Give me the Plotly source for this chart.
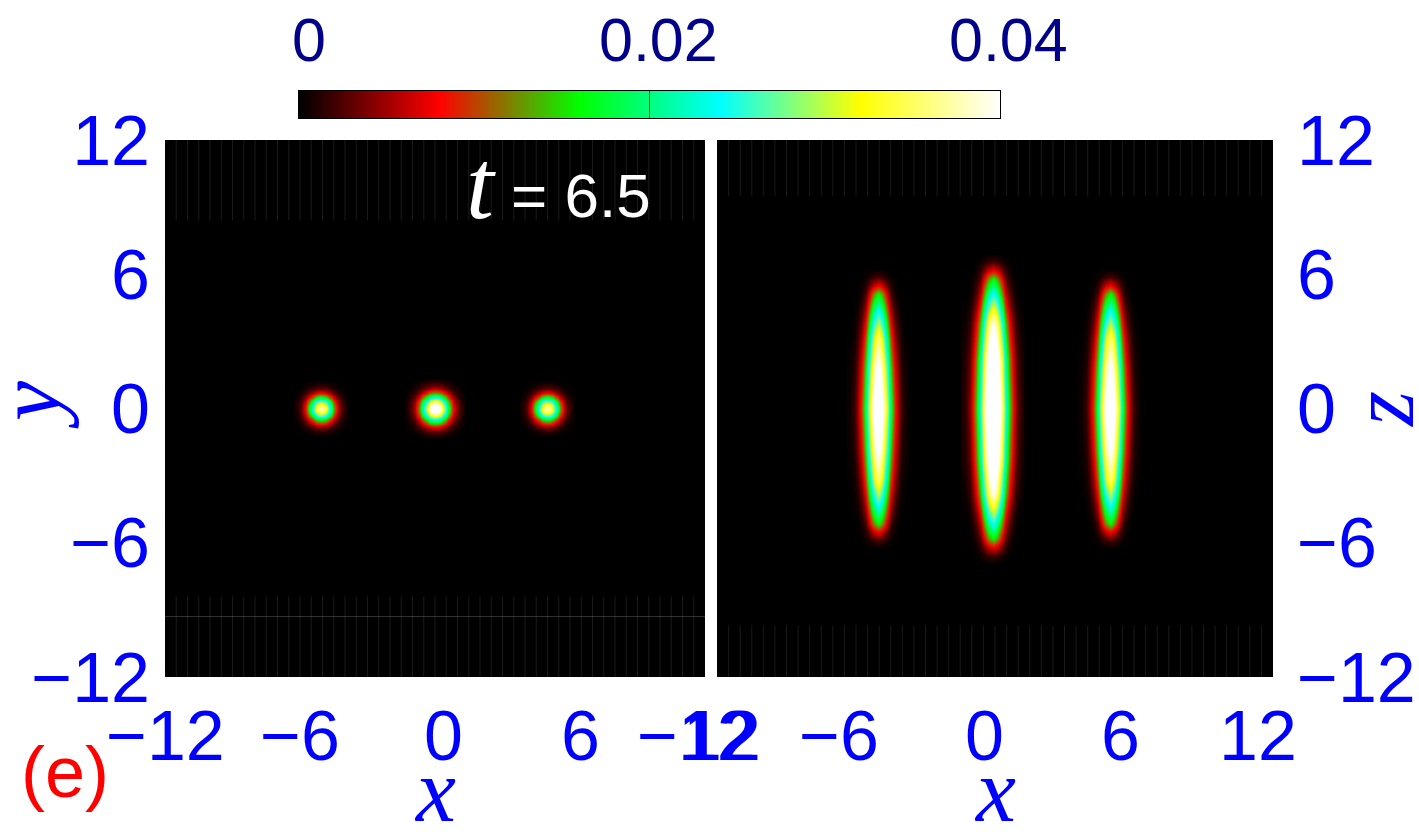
import numpy as np
import plotly.graph_objects as go

W, H = 1419, 839

# colour scale: density at each colour stop of the bar
bar_values = [0, 0.008, 0.016, 0.024, 0.032, 0.04]
bar_colors = ["#000000", "#ff0000", "#00ff00", "#00ffff", "#ffff00", "#ffffff"]
bar_tick_values = [0, 0.02, 0.04]
bar_tick_text = ["0", "0.02", "0.04"]

axis_ticks = [-12, -6, 0, 6, 12]
axis_tick_text = ["\u221212", "\u22126", "0", "6", "12"]

# blob centres on the x axis, and peak density
xy_centres = [-5.07, 0.0, 4.98]
xz_centres = [-5.05, -0.09, 4.96]
xy_peaks = [0.038, 0.044, 0.038]

# x-y panel: cross-section through a blob, distance from its centre -> fraction of its peak
xy_offsets = [0, .115, .23, .345, .46, .575, .69, .805, .92, 1.035, 1.15, 1.265, 1.38]
xy_side_profile = [1, .959, .847, .688, .515, .354, .225, .131, .070, .035, .016, 0, 0]
xy_mid_profile = [1, .968, .877, .744, .591, .44, .306, .2, .122, .07, .037, .019, 0]

# x-z panel: one quadrant of each blob's density, rows going out along z, columns along x
xz_x_nodes = [0, .2, .42, .56, .72, .88, 1.03, 1.25]
xz_side_z_nodes = [0, 1.79, 3.13, 4.02, 4.69, 5.13, 5.49, 5.89, 6.25]
xz_side_density = [
    [.046, .041, .030, .0185, .010, .0047, .0019, .0004],
    [.042, .0365, .0249, .015, .0077, .0034, .0012, .0003],
    [.036, .0306, .0187, .0105, .0049, .0019, .0006, .0001],
    [.028, .0232, .0131, .0067, .0027, .0009, .0003, 0],
    [.021, .0168, .0086, .0039, .0014, .0004, .0001, 0],
    [.016, .0123, .0056, .0022, .0006, .0001, 0, 0],
    [.008, .0061, .0028, .0011, .0003, .0001, 0, 0],
    [.002, .0015, .0007, .0003, .0001, 0, 0, 0],
    [0, 0, 0, 0, 0, 0, 0, 0],
]
xz_mid_z_nodes = [0, 2.23, 3.79, 4.69, 5.27, 5.80, 6.16, 6.56, 6.92]
xz_mid_density = [
    [.052, .0470, .0350, .0247, .0149, .0080, .0038, .0011],
    [.047, .0425, .0310, .0208, .0120, .0061, .0028, .0008],
    [.040, .035, .0233, .0144, .0077, .0035, .0014, .0003],
    [.030, .0255, .0156, .0087, .0041, .0016, .0005, .0001],
    [.023, .019, .0108, .0055, .0023, .0008, .0002, 0],
    [.016, .0128, .0066, .003, .0011, .0003, .0001, 0],
    [.008, .0064, .0033, .0015, .0005, .0001, 0, 0],
    [.002, .0016, .0008, .0004, .0001, 0, 0, 0],
    [0, 0, 0, 0, 0, 0, 0, 0],
]

# faint mesh lines seen in the black bands at the top and bottom of each panel
mesh_x = [-11.5, -11, -10.5, -10, -9.5, -9, -8.5, -8, -7.5, -7, -6.5, -6, -5.5, -5, -4.5, -4, -3.5, -3,
          -2.5, -2, -1.5, -1, -.5, 0, .5, 1, 1.5, 2, 2.5, 3, 3.5, 4, 4.5, 5, 5.5, 6, 6.5, 7, 7.5, 8,
          8.5, 9, 9.5, 10, 10.5, 11, 11.5]
xy_mesh_bands = [(8.4, 12), (-12, -8.4)]
xz_mesh_bands = [(9.5, 12), (-12, -9.7)]
xy_mesh_row = -9.3
MESH = "rgba(255,255,255,0.10)"


def mirror_nodes(o):
    o = np.array(o, float)
    return np.r_[-o[:0:-1], o]


def mirror_profile(p):
    p = np.array(p, float)
    return np.r_[p[:0:-1], p]


def mirror_table(t):
    t = np.array(t, float)
    t = np.hstack([t[:, :0:-1], t])
    return np.vstack([t[:0:-1], t])


def blob(x, y, z, xa, ya):
    return go.Heatmap(x=x, y=y, z=z, coloraxis="coloraxis", zsmooth="best", xaxis=xa, yaxis=ya, hoverinfo="skip")


def mesh(bands, xa, ya):
    xs, ys = [], []
    for lo, hi in bands:
        for v in mesh_x:
            xs += [v, v, None]
            ys += [lo, hi, None]
    return go.Scatter(x=xs, y=ys, mode="lines", line=dict(color=MESH, width=1), xaxis=xa, yaxis=ya,
                      hoverinfo="skip")


fig = go.Figure()
for i, (c, pk) in enumerate(zip(xy_centres, xy_peaks)):
    prof = mirror_profile(xy_mid_profile if i == 1 else xy_side_profile)
    o = mirror_nodes(xy_offsets)
    fig.add_trace(blob(c + o, o, pk * np.outer(prof, prof), "x", "y"))
for i, c in enumerate(xz_centres):
    nodes = xz_mid_z_nodes if i == 1 else xz_side_z_nodes
    table = xz_mid_density if i == 1 else xz_side_density
    fig.add_trace(blob(c + mirror_nodes(xz_x_nodes), mirror_nodes(nodes), mirror_table(table), "x2", "y2"))

fig.add_trace(mesh(xy_mesh_bands, "x", "y"))
fig.add_trace(mesh(xz_mesh_bands, "x2", "y2"))
fig.add_trace(go.Scatter(x=[-12, 12], y=[xy_mesh_row, xy_mesh_row], mode="lines",
                         line=dict(color="rgba(255,255,255,0.2)", width=1), xaxis="x", yaxis="y", hoverinfo="skip"))

# colour bar, as its own small axes so that it cannot push the margins
fig.add_trace(go.Heatmap(x=bar_values, y=[0, 1], z=[bar_values, bar_values], coloraxis="coloraxis",
                         zsmooth="best", xaxis="x3", yaxis="y3", hoverinfo="skip"))

BLUE = "#0000ff"
TICK = dict(family="Liberation Sans", size=70, color=BLUE)


def xaxis(l, r):
    return dict(domain=[l / W, r / W], range=[-12, 12], showgrid=False, zeroline=False,
                showticklabels=False, ticks="", tickvals=axis_ticks)


def yaxis(side, anchor, ticklen):
    return dict(domain=[1 - 677 / H, 1 - 140 / H], range=[-12, 12], showgrid=False, zeroline=False,
                side=side, anchor=anchor, tickmode="array", tickvals=axis_ticks, ticktext=axis_tick_text,
                tickfont=TICK, ticks="outside", ticklen=ticklen, tickcolor="rgba(0,0,0,0)")


ann = []
left_shift = [0, 0, 8, 10, 17]
right_shift = [-20, -17, -10, -14, -15]
for v, t, sl, sr in zip(axis_ticks, axis_tick_text, left_shift, right_shift):
    for xr, s in (("x", sl), ("x2", sr)):
        ann.append(dict(x=v, y=1 - 736 / H, xref=xr, yref="paper", text=t, showarrow=False,
                        xshift=s, font=TICK, xanchor="center", yanchor="middle"))
for v, t, px in zip(bar_tick_values, bar_tick_text, (309, 658, 1008)):
    ann.append(dict(x=px / W, y=1 - 40 / H, xref="paper", yref="paper", text=t, showarrow=False,
                    xanchor="center", yanchor="middle",
                    font=dict(family="Liberation Sans", size=61, color="#00008b")))


def label(text, px, py, size, color, family="Liberation Serif", angle=0, italic=True):
    ann.append(dict(x=px / W, y=1 - py / H, xref="paper", yref="paper", text=f"<i>{text}</i>" if italic else text,
                    showarrow=False, textangle=angle, xanchor="center", yanchor="middle",
                    font=dict(family=family, size=size, color=color)))


label("x", 435, 790, 90, BLUE)
label("x", 995, 790, 90, BLUE)
label("y", 30, 405, 90, BLUE, angle=-90)
label("z", 1382, 410, 90, BLUE, angle=-90)
label("t", 481, 185, 100, "white")
label("= 6.5", 581, 195, 62, "white", family="Liberation Sans", italic=False)
label("(e)", 65, 772, 72, "#ff0000", family="Liberation Sans", italic=False)

fig.update_layout(
    width=W, height=H, margin=dict(l=0, r=0, t=0, b=0, autoexpand=False), paper_bgcolor="white", plot_bgcolor="black",
    showlegend=False, annotations=ann,
    xaxis=xaxis(165, 705), xaxis2=xaxis(717, 1273),
    yaxis=yaxis("left", "x", 0), yaxis2=yaxis("right", "x2", 9),
    xaxis3=dict(domain=[299 / W, 1000 / W], range=[0, 0.04], anchor="y3", showgrid=False, zeroline=False,
                showticklabels=False, tickvals=[0.02], ticks="inside", ticklen=27, tickwidth=1,
                tickcolor="#0a5a2a", showline=True, linecolor="black", linewidth=1, mirror=True),
    yaxis3=dict(domain=[1 - 118 / H, 1 - 91 / H], range=[0, 1], anchor="x3", showgrid=False, zeroline=False,
                showticklabels=False, ticks="", showline=True, linecolor="black", linewidth=1, mirror=True),
    coloraxis=dict(cmin=0, cmax=0.04, showscale=False,
                   colorscale=[[v / 0.04, c] for v, c in zip(bar_values, bar_colors)]),
)
fig.write_html("out.html", config=dict(displayModeBar=False),
               post_script="document.body.style.margin='0';")
